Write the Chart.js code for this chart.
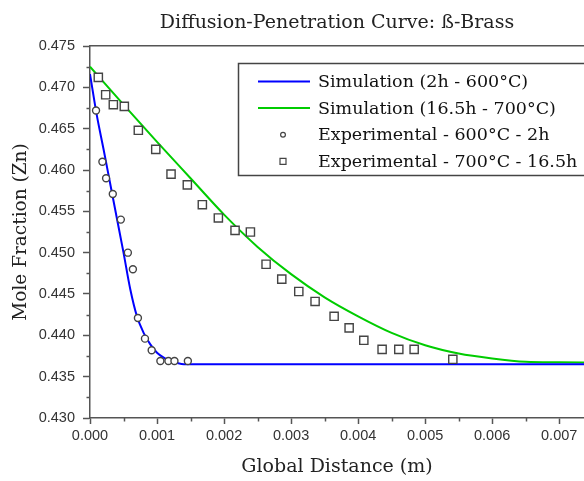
<!DOCTYPE html>
<html>
<head>
<meta charset="utf-8">
<script src="https://cdn.jsdelivr.net/npm/chart.js@4.4.1/dist/chart.umd.min.js"></script>
<style>
  html, body { margin: 0; padding: 0; background: #fff; overflow: hidden; }
  canvas { display: block; }
</style>
</head>
<body>
<canvas id="chart" width="584" height="481"></canvas>
<script>
// simulated profiles (distance in m, mole fraction Zn)
const simDist600 = [0, 0.0001, 0.0002, 0.0003, 0.0004, 0.0005, 0.0006, 0.0007, 0.0008, 0.0009,
  0.001, 0.0011, 0.0012, 0.0013, 0.0014, 0.0015, 0.0016, 0.0075];
const simFrac600 = [0.4716, 0.4667, 0.4626, 0.4584, 0.4542, 0.4500, 0.4456, 0.4423, 0.4403, 0.4389,
  0.4379, 0.4373, 0.4369, 0.43665, 0.4365, 0.4365, 0.4365, 0.4365];

const simDist700 = [0, 0.0005, 0.001, 0.0015, 0.002, 0.0025, 0.003, 0.0035, 0.004, 0.0045,
  0.005, 0.0055, 0.006, 0.0065, 0.007, 0.0075];
const simFrac700 = [0.4725, 0.4679, 0.4634, 0.4590, 0.4546, 0.4507, 0.4474, 0.4446, 0.4423, 0.4403,
  0.4388, 0.4378, 0.4372, 0.4368, 0.43673, 0.4367];

// measured points
const expDist600 = [0.00009, 0.000185, 0.00024, 0.00034, 0.00046, 0.000565, 0.00064, 0.000715,
  0.00082, 0.00092, 0.00105, 0.00117, 0.00126, 0.00146];
const expFrac600 = [0.4672, 0.4610, 0.4590, 0.4571, 0.4540, 0.4500, 0.4480, 0.4421,
  0.4396, 0.4382, 0.4369, 0.4369, 0.4369, 0.4369];

const expDist700 = [0.000124, 0.000234, 0.000348, 0.000512, 0.000721, 0.000981, 0.001209, 0.001452,
  0.001676, 0.001915, 0.002164, 0.002393, 0.002627, 0.002861, 0.003115, 0.003358, 0.003642,
  0.003866, 0.004085, 0.004358, 0.004607, 0.004836, 0.005413];
const expFrac700 = [0.4712, 0.4691, 0.4679, 0.4677, 0.4648, 0.4625, 0.4595, 0.4582,
  0.4558, 0.4542, 0.4527, 0.4525, 0.4486, 0.4468, 0.4453, 0.4441, 0.4423,
  0.4409, 0.4394, 0.4383, 0.4383, 0.4383, 0.4371];

const seriesNames = [
  "Simulation (2h - 600°C)",
  "Simulation (16.5h - 700°C)",
  "Experimental - 600°C - 2h",
  "Experimental - 700°C - 16.5h",
];

const xMajor = 0.001, xMinor = 0.0005;
const yMajor = 0.005, yMinor = 0.0025;

const serif = "'DejaVu Serif', serif";
const sans = "'Liberation Sans', Arial, sans-serif";
const axisColor = "#555";

const pts = (xs, ys) => xs.map((x, i) => ({ x, y: ys[i] }));
const isMajor = (v, step) => Math.abs(v / step - Math.round(v / step)) < 1e-6;

// short minor tick marks + the framed legend
const extras = {
  id: "extras",
  afterDraw(chart) {
    const { ctx, chartArea, scales } = chart;
    ctx.save();
    ctx.strokeStyle = axisColor;
    ctx.lineWidth = 1.5;
    scales.x.ticks.forEach((t) => {
      if (isMajor(t.value, xMajor)) return;
      const px = Math.round(scales.x.getPixelForValue(t.value)) + 0.5;
      ctx.beginPath();
      ctx.moveTo(px, chartArea.bottom);
      ctx.lineTo(px, chartArea.bottom + 3.5);
      ctx.stroke();
    });
    scales.y.ticks.forEach((t) => {
      if (isMajor(t.value, yMajor)) return;
      const py = Math.round(scales.y.getPixelForValue(t.value)) + 0.5;
      ctx.beginPath();
      ctx.moveTo(chartArea.left, py);
      ctx.lineTo(chartArea.left - 3.5, py);
      ctx.stroke();
    });

    // legend (box runs past the right edge, as in the source image)
    const box = { left: 238.5, top: 63.5, right: 600, bottom: 175.5 };
    ctx.fillStyle = "#fff";
    ctx.fillRect(box.left, box.top, box.right - box.left, box.bottom - box.top);
    ctx.strokeStyle = "#444";
    ctx.lineWidth = 1.5;
    ctx.strokeRect(box.left, box.top, box.right - box.left, box.bottom - box.top);

    ctx.font = "17.5px " + serif;
    ctx.textBaseline = "middle";
    chart.data.datasets.forEach((ds, i) => {
      const y = 81.5 + i * 26.6;
      if (ds.showLine) {
        ctx.strokeStyle = ds.borderColor;
        ctx.lineWidth = 2;
        ctx.beginPath();
        ctx.moveTo(258, y);
        ctx.lineTo(310, y);
        ctx.stroke();
      } else {
        ctx.strokeStyle = "#444";
        ctx.fillStyle = "#fff";
        ctx.lineWidth = 1.2;
        ctx.beginPath();
        if (ds.pointStyle === "rect") ctx.rect(280, y - 3, 6, 6);
        else ctx.arc(283, y, 2.4, 0, Math.PI * 2);
        ctx.fill();
        ctx.stroke();
      }
      ctx.fillStyle = "#111";
      ctx.fillText(ds.label, 318, y + 1);
    });
    ctx.restore();
  },
};

const noSidePad = (s) => { s.paddingLeft = 0; s.paddingRight = 0; };

new Chart(document.getElementById("chart"), {
  type: "scatter",
  data: {
    datasets: [
      {
        label: seriesNames[0],
        data: pts(simDist600, simFrac600),
        showLine: true,
        borderColor: "#0000ff",
        borderWidth: 2,
        pointRadius: 0,
        cubicInterpolationMode: "monotone",
        order: 2,
      },
      {
        label: seriesNames[1],
        data: pts(simDist700, simFrac700),
        showLine: true,
        borderColor: "#00cc00",
        borderWidth: 2,
        pointRadius: 0,
        cubicInterpolationMode: "monotone",
        order: 3,
      },
      {
        label: seriesNames[2],
        data: pts(expDist600, expFrac600),
        showLine: false,
        pointStyle: "circle",
        pointRadius: 3.5,
        pointBorderWidth: 1.4,
        pointBorderColor: "#444",
        pointBackgroundColor: "#fff",
        order: 1,
      },
      {
        label: seriesNames[3],
        data: pts(expDist700, expFrac700),
        showLine: false,
        pointStyle: "rect",
        pointRadius: 5.8,
        pointBorderWidth: 1.4,
        pointBorderColor: "#444",
        pointBackgroundColor: "#fff",
        order: 1,
      },
    ],
  },
  options: {
    responsive: false,
    animation: false,
    layout: { padding: 0, autoPadding: false },
    plugins: {
      legend: { display: false },
      tooltip: { enabled: false },
      title: { display: false },
    },
    scales: {
      x: {
        type: "linear",
        position: "bottom",
        min: 0,
        max: 0.00737,
        afterFit: (s) => { s.height = 63; noSidePad(s); },
        border: { color: axisColor, width: 1.5 },
        grid: {
          drawOnChartArea: false,
          tickLength: 6,
          tickWidth: 1.5,
          tickColor: (c) => (c.tick && isMajor(c.tick.value, xMajor) ? axisColor : "rgba(0,0,0,0)"),
        },
        ticks: {
          stepSize: xMinor,
          includeBounds: false,
          autoSkip: false,
          maxRotation: 0,
          padding: 3,
          color: "#333",
          font: { family: sans, size: 14.5 },
          callback: (v) => (isMajor(v, xMajor) ? v.toFixed(3) : ""),
        },
        title: {
          display: true,
          text: "Global Distance (m)",
          color: "#222",
          font: { family: serif, size: 19 },
          padding: { top: 0, bottom: 3 },
        },
      },
      top: {
        type: "linear",
        position: "top",
        min: 0,
        max: 0.00737,
        afterFit: (s) => { s.height = 46; noSidePad(s); },
        border: { color: axisColor, width: 1.5 },
        grid: { display: false },
        ticks: { display: false },
        title: {
          display: true,
          text: "Diffusion-Penetration Curve: ß-Brass",
          color: "#222",
          font: { family: serif, size: 19 },
          padding: { top: 12, bottom: 0 },
        },
      },
      y: {
        type: "linear",
        position: "left",
        min: 0.43,
        max: 0.475,
        afterFit: (s) => { s.width = 90; },
        border: { color: axisColor, width: 1.5 },
        grid: {
          drawOnChartArea: false,
          tickLength: 7,
          tickWidth: 1.5,
          tickColor: (c) => (c.tick && isMajor(c.tick.value, yMajor) ? axisColor : "rgba(0,0,0,0)"),
        },
        ticks: {
          stepSize: yMinor,
          includeBounds: false,
          autoSkip: false,
          padding: 8,
          color: "#333",
          font: { family: sans, size: 14.5 },
          callback: (v) => (isMajor(v, yMajor) ? v.toFixed(3) : ""),
        },
        title: {
          display: true,
          text: "Mole Fraction (Zn)",
          color: "#222",
          font: { family: serif, size: 18.5 },
          padding: { top: 10, bottom: 0 },
        },
      },
    },
  },
  plugins: [extras],
});
</script>
</body>
</html>
